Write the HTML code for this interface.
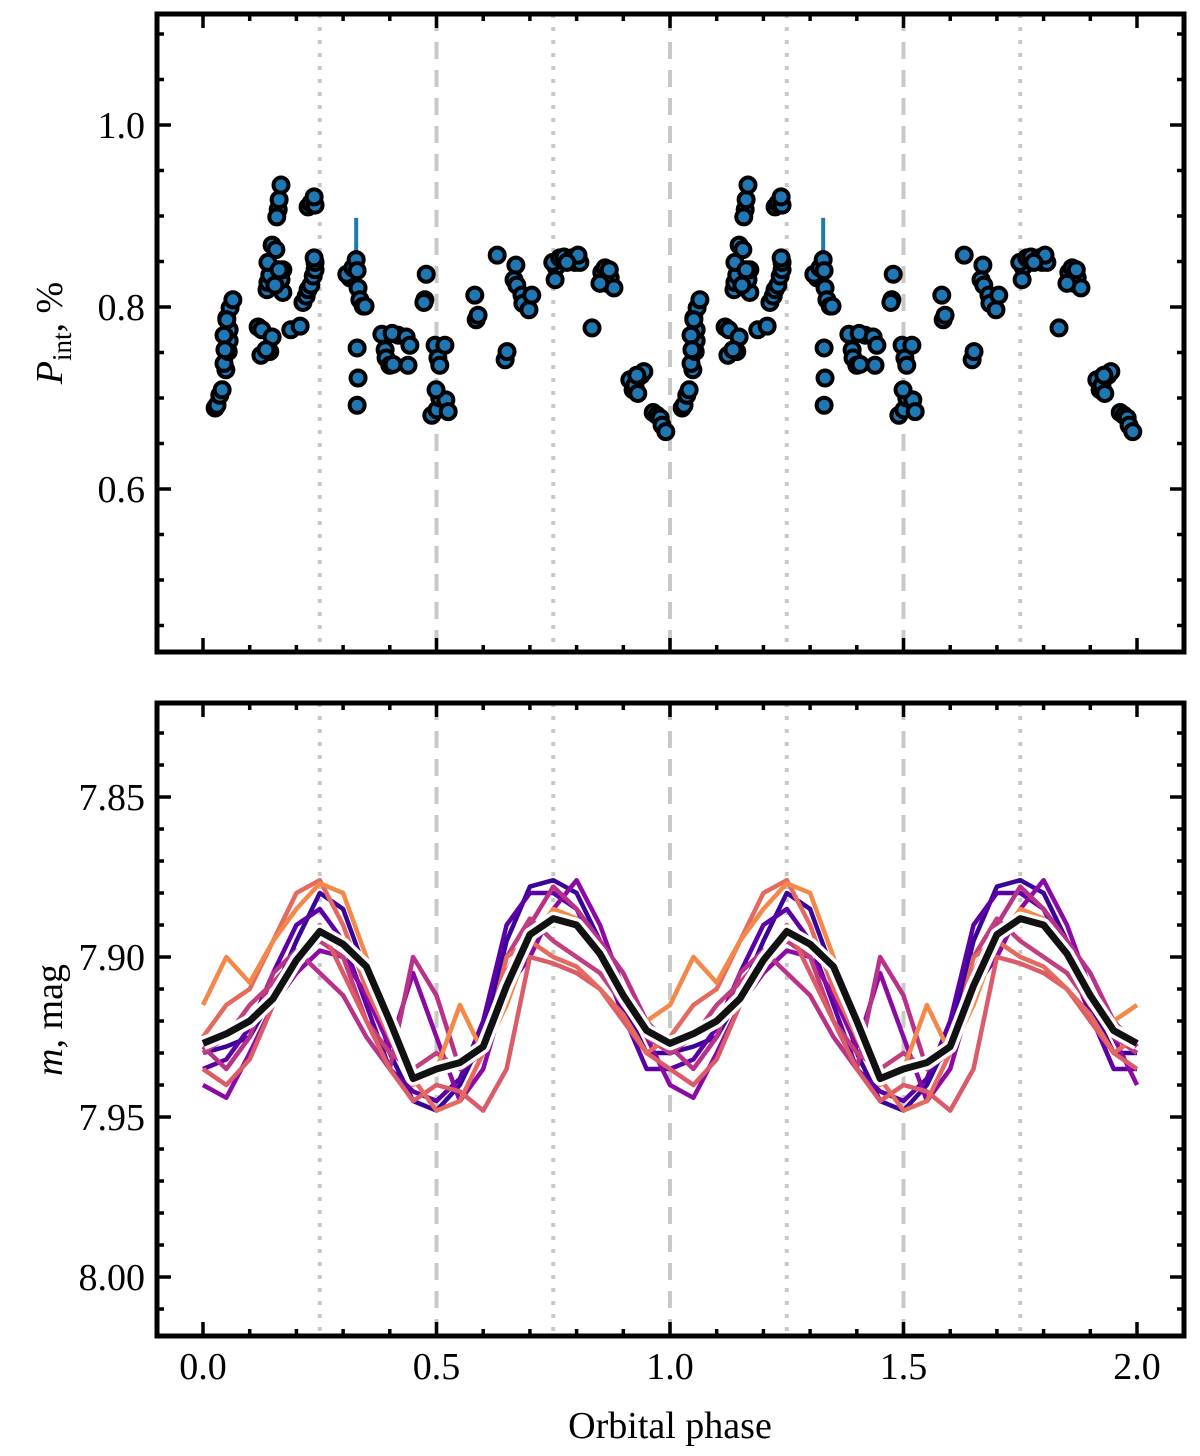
<!DOCTYPE html>
<html><head><meta charset="utf-8">
<style>
html,body{margin:0;padding:0;background:#fff;}
svg{display:block;font-family:"Liberation Serif",serif;}
</style></head>
<body>
<svg id="fig" width="1200" height="1456" viewBox="0 0 1200 1456" xmlns="http://www.w3.org/2000/svg">
<g id="top"></g>
<g id="bot"></g>
<text x="670" y="1438" font-size="38" text-anchor="middle">Orbital phase</text>
<text transform="translate(62,333) rotate(-90)" font-size="38" text-anchor="middle"><tspan font-style="italic">P</tspan><tspan font-size="27" dy="9">int</tspan><tspan dy="-9">, %</tspan></text>
<text transform="translate(62,1020) rotate(-90)" font-size="38" text-anchor="middle"><tspan font-style="italic">m</tspan>, mag</text>
</svg>
<script>
const pPhase=[0.026,0.030,0.036,0.041,0.049,0.045,0.054,0.056,0.056,0.051,0.058,0.064,0.051,0.045,0.047,
0.118,0.126,0.124,0.143,0.148,0.135,0.137,0.139,0.143,0.139,0.148,0.156,0.161,0.163,0.158,0.167,0.171,0.167,0.171,0.154,0.163,
0.188,0.208,0.214,0.221,0.225,0.231,0.236,0.240,0.240,0.238,0.225,0.231,0.240,0.238,
0.315,0.308,0.321,0.328,0.330,0.332,0.336,0.343,0.347,0.330,0.332,0.330,
0.383,0.390,0.392,0.400,0.407,0.418,0.405,0.435,0.439,0.443,
0.478,0.475,0.473,0.497,0.503,0.507,0.518,0.490,0.501,0.507,0.520,0.525,0.499,
0.582,0.585,0.589,0.630,0.647,0.651,0.670,0.666,0.672,0.683,0.685,0.698,0.704,
0.756,0.754,0.749,0.764,0.773,0.790,0.797,0.807,0.803,0.779,0.833,
0.854,0.861,0.865,0.872,0.880,0.850,0.870,
0.914,0.921,0.925,0.931,0.938,0.944,0.929,0.964,0.972,0.979,0.983,0.991];
const pValue=[0.689,0.692,0.703,0.709,0.731,0.738,0.751,0.763,0.775,0.788,0.799,0.808,0.786,0.769,0.753,
0.778,0.775,0.747,0.751,0.767,0.753,0.819,0.827,0.835,0.849,0.868,0.863,0.907,0.918,0.899,0.934,0.816,0.830,0.841,0.824,0.841,
0.775,0.779,0.805,0.812,0.819,0.824,0.834,0.841,0.849,0.854,0.910,0.914,0.912,0.921,
0.832,0.836,0.843,0.852,0.840,0.821,0.808,0.801,0.801,0.755,0.722,0.692,
0.770,0.753,0.744,0.736,0.737,0.769,0.771,0.767,0.736,0.758,
0.836,0.808,0.805,0.758,0.744,0.736,0.758,0.681,0.687,0.700,0.698,0.685,0.709,
0.813,0.786,0.791,0.857,0.742,0.751,0.846,0.830,0.824,0.813,0.804,0.797,0.813,
0.844,0.830,0.849,0.854,0.855,0.854,0.849,0.849,0.857,0.849,0.777,
0.838,0.843,0.826,0.832,0.821,0.826,0.841,
0.720,0.709,0.714,0.705,0.725,0.729,0.725,0.684,0.681,0.678,0.670,0.663];
const bigErrIndex=53; const bigErr=0.046; const baseErr=0.008;
const curvePhase=[0,0.05,0.1,0.15,0.2,0.25,0.3,0.35,0.4,0.45,0.5,0.55,0.6,0.65,0.7,0.75,0.8,0.85,0.9,0.95,1.0];
const curve1=[7.930,7.928,7.925,7.912,7.895,7.880,7.885,7.905,7.930,7.945,7.948,7.940,7.925,7.895,7.878,7.876,7.880,7.895,7.915,7.930,7.930];
const curve2=[7.935,7.932,7.922,7.905,7.890,7.885,7.895,7.915,7.935,7.942,7.945,7.938,7.920,7.890,7.880,7.880,7.885,7.900,7.918,7.935,7.935];
const curve3=[7.940,7.944,7.930,7.915,7.905,7.898,7.900,7.912,7.928,7.905,7.925,7.945,7.935,7.910,7.900,7.885,7.876,7.890,7.910,7.925,7.940];
const curve4=[7.928,7.935,7.925,7.905,7.898,7.905,7.912,7.925,7.935,7.900,7.912,7.935,7.930,7.905,7.890,7.878,7.885,7.895,7.905,7.920,7.928];
const curve5=[7.935,7.940,7.932,7.915,7.900,7.890,7.905,7.920,7.935,7.945,7.940,7.942,7.948,7.935,7.900,7.902,7.905,7.910,7.920,7.930,7.935];
const curve6=[7.915,7.900,7.908,7.895,7.885,7.877,7.880,7.900,7.925,7.940,7.935,7.915,7.930,7.915,7.895,7.885,7.888,7.900,7.915,7.920,7.915];
const curve7=[7.925,7.915,7.910,7.895,7.880,7.876,7.890,7.910,7.925,7.938,7.948,7.945,7.930,7.900,7.895,7.900,7.903,7.910,7.918,7.930,7.925];
const curve8=[7.930,7.925,7.915,7.908,7.900,7.895,7.900,7.920,7.930,7.935,7.930,7.935,7.930,7.900,7.888,7.895,7.900,7.905,7.915,7.925,7.930];
const meanCurve=[7.927,7.924,7.920,7.913,7.901,7.892,7.896,7.903,7.920,7.938,7.935,7.933,7.928,7.909,7.893,7.888,7.890,7.899,7.912,7.923,7.927];
const xTicks=[0,0.5,1.0,1.5,2.0];
const xTickLabels=["0.0","0.5","1.0","1.5","2.0"];
const topYTicks=[0.6,0.8,1.0];
const topYTickLabels=["0.6","0.8","1.0"];
const botYTicks=[7.85,7.90,7.95,8.00];
const botYTickLabels=["7.85","7.90","7.95","8.00"];

const NS="http://www.w3.org/2000/svg";
const L=157,R=1184;
const xs=v=>203+(v-0)*467;
const topY=v=>125+(1.0-v)*910;
const botY=v=>957+(v-7.90)*3200;
const T={y0:14,y1:652}, B={y0:703,y1:1336};
function mk(tag,parent,attrs){const e=document.createElementNS(NS,tag);for(const k in attrs)e.setAttribute(k,attrs[k]);parent.appendChild(e);return e;}

function frame(g,P){
  [0.25,0.75,1.25,1.75].forEach(v=>{const l=mk('line',g,{x1:xs(v),x2:xs(v),y1:P.y0,y2:P.y1,stroke:'#c8c8c8','stroke-width':4,'stroke-dasharray':'4 9'});
    
    });
  [0.5,1.0,1.5].forEach(v=>{const l=mk('line',g,{x1:xs(v),x2:xs(v),y1:P.y0,y2:P.y1,stroke:'#c8c8c8','stroke-width':4,'stroke-dasharray':'17 11'});
    
    });
}
function axes(g,P,yfun,majors,labels,minorStep,minorLo,minorHi,showX){
  const ax=mk('g',g,{});
  
  
  mk('rect',ax,{x:L,y:P.y0,width:R-L,height:P.y1-P.y0,fill:'none',stroke:'#000','stroke-width':5});
  for(let i=-1;i<=21;i++){const v=i/10;const x=xs(v);if(x<L+2||x>R-2)continue;const maj=(i%5===0);const len=maj?14:7;
    mk('line',ax,{x1:x,x2:x,y1:P.y1,y2:P.y1-len,stroke:'#000','stroke-width':3.5});
    mk('line',ax,{x1:x,x2:x,y1:P.y0,y2:P.y0+len,stroke:'#000','stroke-width':3.5});}
  for(let v=minorLo;v<=minorHi+1e-9;v+=minorStep){const y=yfun(v);if(y<P.y0+2||y>P.y1-2)continue;
    const maj=majors.some(m=>Math.abs(m-v)<1e-6);const len=maj?14:7;
    mk('line',ax,{x1:L,x2:L+len,y1:y,y2:y,stroke:'#000','stroke-width':3.5});
    mk('line',ax,{x1:R,x2:R-len,y1:y,y2:y,stroke:'#000','stroke-width':3.5});}
  majors.forEach((m,i)=>{const t=mk('text',ax,{x:L-12,y:yfun(m)+13,'font-size':38,'text-anchor':'end'});t.textContent=labels[i];
    
    });
  if(showX)xTicks.forEach((v,i)=>{const t=mk('text',ax,{x:xs(v),y:P.y1+43,'font-size':38,'text-anchor':'middle'});t.textContent=xTickLabels[i];
    
    });
}
const gt=document.getElementById('top');
frame(gt,T);
const pts=mk('g',gt,{});


for(let c=0;c<2;c++){
  pPhase.forEach((p,i)=>{const x=xs(p+c),y=topY(pValue[i]);const e=(i===bigErrIndex?bigErr:baseErr);
    const eb=mk('line',pts,{x1:x,x2:x,y1:y-e*910,y2:y+baseErr*910,stroke:'#1f77b4','stroke-width':4});
    
    });
}
for(let c=0;c<2;c++){
  pPhase.forEach((p,i)=>{const d=mk('circle',pts,{cx:xs(p+c),cy:topY(pValue[i]),r:7.5,fill:'#1f77b4',stroke:'#000','stroke-width':4});
    
    });
}
axes(gt,T,topY,topYTicks,topYTickLabels,0.05,0.45,1.1,false);

const gb=document.getElementById('bot');
frame(gb,B);
const curves=[curve1,curve2,curve3,curve4,curve5,curve6,curve7,curve8];
const colors=['#3a049a','#5c01a6','#8b0aa5','#b83289','#db5c68','#f48849','#e4695e','#c13f7f'];
const order=[0,1,2,3,7,4,6,5];
function pathFor(arr){let d='';for(let c=0;c<2;c++){arr.forEach((v,i)=>{if(c===1&&i===0)return;d+=(d?'L':'M')+xs(curvePhase[i]+c).toFixed(1)+','+botY(v).toFixed(1);});}return d;}
order.forEach(k=>{const p=mk('path',gb,{d:pathFor(curves[k]),fill:'none',stroke:colors[k],'stroke-width':4.5,'stroke-linejoin':'round'});
  
  });
const halo=mk('path',gb,{d:pathFor(meanCurve),fill:'none',stroke:'#fff','stroke-width':14,'stroke-linejoin':'round'});


const mean=mk('path',gb,{d:pathFor(meanCurve),fill:'none',stroke:'#111','stroke-width':7,'stroke-linejoin':'round'});


axes(gb,B,botY,botYTicks,botYTickLabels,0.01,7.82,8.02,true);
</script>
</body></html>
